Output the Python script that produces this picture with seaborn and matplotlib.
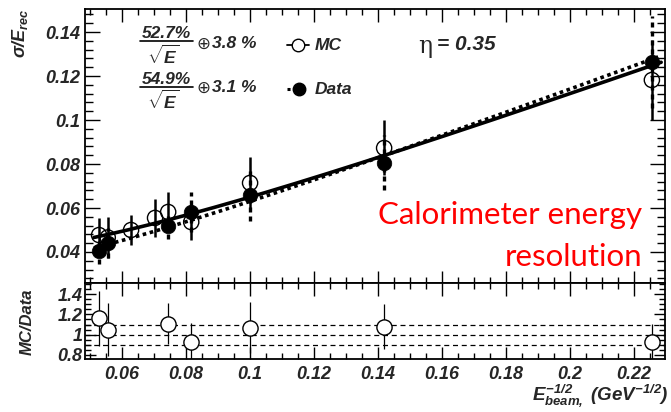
import numpy as np
import pandas as pd
import matplotlib
matplotlib.use("Agg")
import matplotlib.pyplot as plt
from matplotlib.lines import Line2D
from matplotlib.ticker import MultipleLocator
import seaborn as sns

# ---- measured resolution points ----
x_mc = [0.0528, 0.0555, 0.0628, 0.0703, 0.0744, 0.0816, 0.1000, 0.1419, 0.2256]
res_mc = [0.0477, 0.0466, 0.0500, 0.0555, 0.0582, 0.0536, 0.0714, 0.0873, 0.1182]
err_mc = [0.0077, 0.0095, 0.0068, 0.0086, 0.0090, 0.0080, 0.0120, 0.0125, 0.0180]

x_data = [0.0528, 0.0555, 0.0744, 0.0816, 0.1000, 0.1419, 0.2256]
res_data = [0.0406, 0.0441, 0.0518, 0.0582, 0.0659, 0.0805, 0.1264]
err_data = [0.0060, 0.0070, 0.0060, 0.0090, 0.0120, 0.0125, 0.0210]

# MC / Data ratio
x_ratio = [0.0528, 0.0555, 0.0744, 0.0816, 0.1000, 0.1419, 0.2256]
ratio = [1.16, 1.05, 1.11, 0.93, 1.07, 1.08, 0.93]
err_ratio = [0.27, 0.265, 0.20, 0.19, 0.25, 0.225, 0.175]

# fit parameters: sigma/E = a/sqrt(E) (+) b
fit_names = ["MC", "Data"]
fit_stoch = [0.527, 0.549]
fit_const = [0.038, 0.031]
fit_range = [0.0512, 0.2285]

W, H = 671, 412
sns.set_style("ticks")
plt.rcParams["font.family"] = ["Liberation Sans", "DejaVu Sans"]
plt.rcParams["mathtext.fontset"] = "custom"
plt.rcParams["mathtext.rm"] = "Liberation Sans:bold:italic"
plt.rcParams["mathtext.it"] = "Liberation Sans:bold:italic"
plt.rcParams["mathtext.bf"] = "Liberation Sans:bold:italic"

fig = plt.figure(figsize=(W / 100, H / 100), dpi=100)
fig.patch.set_facecolor("white")


def fx(px):
    return px / W


def fy(py):
    return 1 - py / H


ax = fig.add_axes([fx(85), fy(283), fx(665) - fx(85), fy(9) - fy(283)])
axr = fig.add_axes([fx(85), fy(359), fx(665) - fx(85), fy(283) - fy(359)], sharex=ax)

# fit curves
xx = np.linspace(fit_range[0], fit_range[1], 200)
fit_rows = []
for name, a, b in zip(fit_names, fit_stoch, fit_const):
    for x in xx:
        fit_rows.append({"x": x, "y": np.hypot(a * x, b), "sample": name})
fit_df = pd.DataFrame(fit_rows)
sns.lineplot(data=fit_df[fit_df["sample"] == "MC"], x="x", y="y", ax=ax,
             color="black", lw=2.6, legend=False, zorder=3)
sns.lineplot(data=fit_df[fit_df["sample"] == "Data"], x="x", y="y", ax=ax,
             color="black", lw=2.6, legend=False, zorder=3,
             linestyle=(0, (1.0, 1.0)))

# error bars
ax.errorbar(x_mc, res_mc, yerr=err_mc, fmt="none", ecolor="black",
            elinewidth=1.8, capsize=0, zorder=2)
eb = ax.errorbar(x_data, res_data, yerr=err_data, fmt="none", ecolor="black",
                 elinewidth=2.4, capsize=0, zorder=2)
for lc in eb[2]:
    lc.set_linestyle((0, (1.5, 1.2)))

# points
mc_df = pd.DataFrame({"x": x_mc, "y": res_mc})
data_df = pd.DataFrame({"x": x_data, "y": res_data})
sns.scatterplot(data=mc_df, x="x", y="y", ax=ax, marker="o", s=120,
                facecolors="none", edgecolor="black", linewidth=1.0, zorder=4)
sns.scatterplot(data=data_df, x="x", y="y", ax=ax, marker="o", s=110,
                color="black", edgecolor="black", linewidth=0.5, zorder=5)

# ratio panel
for lvl in [0.9, 1.0, 1.1]:
    axr.axhline(lvl, color="black", lw=0.9, ls=(0, (4, 3)), zorder=1)
axr.errorbar(x_ratio, ratio, yerr=err_ratio, fmt="none", ecolor="black",
             elinewidth=0.9, capsize=0, zorder=2)
ratio_df = pd.DataFrame({"x": x_ratio, "y": ratio})
sns.scatterplot(data=ratio_df, x="x", y="y", ax=axr, marker="o", s=120,
                facecolors="white", edgecolor="black", linewidth=1.0, zorder=3)

# axes ranges and ticks
ax.set_xlim(0.0484, 0.2297)
ax.set_ylim(0.0259, 0.1505)
axr.set_ylim(0.76, 1.51)

for a in (ax, axr):
    for sp in a.spines.values():
        sp.set_linewidth(1.3)
        sp.set_color("black")
    a.set_xlabel("")
    a.set_ylabel("")
    a.xaxis.set_major_locator(MultipleLocator(0.02))
    a.xaxis.set_minor_locator(MultipleLocator(0.005))
    a.tick_params(which="both", direction="in", top=True, right=True,
                  width=1.0, color="black")
    a.tick_params(axis="x", which="major", length=9)
    a.tick_params(axis="x", which="minor", length=4.5)

ax.yaxis.set_major_locator(MultipleLocator(0.02))
ax.yaxis.set_minor_locator(MultipleLocator(0.004))
ax.tick_params(axis="y", which="major", length=11, labelsize=13)
ax.tick_params(axis="y", which="minor", length=5.5)
ax.tick_params(axis="x", labelbottom=False)

axr.yaxis.set_major_locator(MultipleLocator(0.2))
axr.yaxis.set_minor_locator(MultipleLocator(0.05))
axr.tick_params(axis="y", which="major", length=8, labelsize=13, pad=2)
axr.tick_params(axis="y", which="minor", length=4)
axr.tick_params(axis="x", labelsize=13, pad=5)


def fmt(v, _pos=None):
    return f"{v:.2f}".rstrip("0").rstrip(".")


ax.yaxis.set_major_formatter(plt.FuncFormatter(fmt))
axr.yaxis.set_major_formatter(plt.FuncFormatter(fmt))
axr.xaxis.set_major_formatter(plt.FuncFormatter(fmt))
for lab in ax.get_yticklabels() + axr.get_yticklabels() + axr.get_xticklabels():
    lab.set_fontweight("bold")
    lab.set_fontstyle("italic")

# axis titles
fig.text(fx(20), fy(8), r"$\sigma/E_{rec}$", rotation=90, ha="center", va="top",
         fontsize=13, fontweight="bold", style="italic")
fig.text(fx(27), fy(322), "MC/Data", rotation=90, ha="center", va="center",
         fontsize=12, fontweight="bold", style="italic")
fig.text(fx(669), fy(400), r"$E_{beam,}^{-1/2}$ (GeV$^{-1/2}$)", ha="right",
         va="baseline", fontsize=13.5, fontweight="bold", style="italic")

# fit-parameter labels
labels = [("52.7%", "3.8 %", 33, 55, 45, "MC"), ("54.9%", "3.1 %", 79, 100, 89, "Data")]
for (num, cst, ynum, yden, yrow, name), open_mk in zip(labels, [True, False]):
    fig.text(fx(166), fy(ynum), num, ha="center", va="center", fontsize=12.5,
             fontweight="bold", style="italic")
    fig.add_artist(Line2D([fx(140), fx(193)], [fy(ynum + 8), fy(ynum + 8)],
                          color="black", lw=1.2))
    fig.text(fx(163), fy(yden), r"$\sqrt{E}$", ha="center", va="center",
             fontsize=12.5)
    fig.text(fx(196), fy(yrow - 1), "\u2295", ha="left", va="center",
             fontsize=12, family="DejaVu Sans")
    fig.text(fx(212), fy(yrow - 1), cst, ha="left", va="center", fontsize=12.5,
             fontweight="bold", style="italic")
    if open_mk:
        fig.add_artist(Line2D([fx(287), fx(309)], [fy(yrow), fy(yrow)],
                              color="black", lw=1.3))
        fig.add_artist(Line2D([fx(298)], [fy(yrow)], marker="o", ms=9,
                              mfc="white", mec="black", mew=1.0))
    else:
        fig.add_artist(Line2D([fx(287), fx(292)], [fy(yrow), fy(yrow)],
                              color="black", lw=2.2, ls=(0, (1, 1))))
        fig.add_artist(Line2D([fx(299)], [fy(yrow)], marker="o", ms=9,
                              mfc="black", mec="black"))
    fig.text(fx(315), fy(yrow), name, ha="left", va="center", fontsize=12.5,
             fontweight="bold", style="italic")

fig.text(fx(418), fy(47), "\u03b7", ha="left", va="center", fontsize=17,
         family="DejaVu Serif", style="normal", fontweight="normal")
fig.text(fx(437), fy(45), "= 0.35", ha="left", va="center", fontsize=15,
         fontweight="bold", style="italic")

fig.text(fx(642), fy(215), "Calorimeter energy", ha="right", va="center",
         fontsize=22.5, color="#ff0000", family="Lato", style="normal")
fig.text(fx(642), fy(257), "resolution", ha="right", va="center",
         fontsize=22.5, color="#ff0000", family="Lato", style="normal")

fig.savefig("out.png", dpi=100, facecolor="white")
